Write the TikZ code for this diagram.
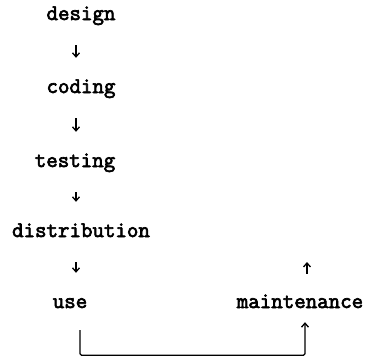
\documentclass[tikz,border=0pt]{standalone}
\usepackage{fontspec}
\setmonofont{Latin Modern Mono}[AutoFakeBold=3]
\usetikzlibrary{arrows.meta}
\begin{document}
\begin{tikzpicture}[x=1pt,y=-1pt,
  lbl/.style={font=\ttfamily\bfseries\fontsize{22.3}{24}\selectfont, anchor=base, inner sep=0pt, text height=13pt, text depth=4pt},
  arr/.style={line width=1.3pt, -{Straight Barb[length=4pt,width=7pt]}},
  flow/.style={arr, shorten <=21pt, shorten >=22pt},
  loopback/.style={arr, rounded corners=1.5pt}]
\useasboundingbox (0,0) rectangle (367,360);
\node[lbl] (design) at (81,20) {design};
\node[lbl] (coding) at (81,93) {coding};
\node[lbl] (testing) at (75,167) {testing};
\node[lbl] (distribution) at (81,237) {distribution};
\node[lbl] (use) at (70,308) {use};
\node[lbl] (maintenance) at (300,308) {maintenance};
\coordinate (mtop) at (307,262);
\draw[flow] ([xshift=-5pt]design.south) -- ([xshift=-5pt]coding.north);
\draw[flow] ([xshift=-5pt]coding.south) -- ([xshift=1pt]testing.north);
\draw[flow] ([xshift=1pt]testing.south) -- ([xshift=-5pt]distribution.north);
\draw[flow] ([xshift=-5pt]distribution.south) -- ([xshift=6pt]use.north);
\draw[arr] ([xshift=7pt,yshift=21pt]maintenance.north) -- (mtop);
\draw[loopback] ([xshift=10pt,yshift=-18pt]use.south) -- ++(0,25) -| ([xshift=5pt,yshift=-10pt]maintenance.south);
\end{tikzpicture}
\end{document}
